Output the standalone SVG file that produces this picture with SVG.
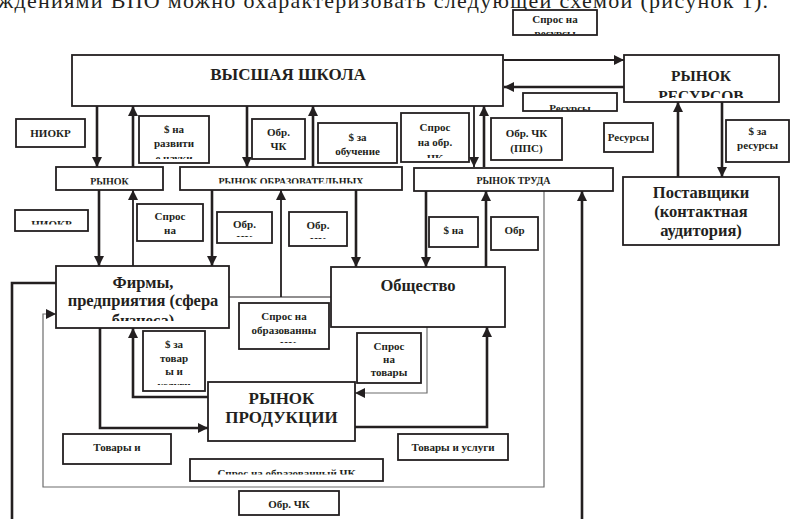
<svg xmlns="http://www.w3.org/2000/svg" width="795" height="519" viewBox="0 0 795 519">
<style>
.box{fill:#fff;stroke:#231f20;stroke-width:1.8}
.t{font-family:"Liberation Serif","Times New Roman",serif;font-weight:bold;fill:#231f20;text-anchor:middle}
.s{font-size:11px}
.m{font-size:10px}
.b{font-size:16.5px}
.a{fill:none;stroke:#231f20;stroke-width:2.6;marker-end:url(#ah)}
.n{fill:none;stroke:#231f20;stroke-width:2.6}
.a2{fill:none;stroke:#231f20;stroke-width:1.8;marker-end:url(#ah)}
.g{fill:none;stroke:#6d6d6d;stroke-width:1.2}
.ga{fill:none;stroke:#6d6d6d;stroke-width:1.2;marker-end:url(#ah)}
</style>
<defs>
<marker id="ah" viewBox="0 0 10 10" refX="10" refY="5" markerWidth="11" markerHeight="10" markerUnits="userSpaceOnUse" orient="auto">
<path d="M0,0 L10,5 L0,10 z" fill="#231f20"/>
</marker>
<clipPath id="c1"><rect x="513" y="10" width="84" height="24"/></clipPath>
<clipPath id="c2"><rect x="624" y="55" width="155" height="43"/></clipPath>
<clipPath id="c3"><rect x="523" y="93" width="94" height="17.5"/></clipPath>
<clipPath id="c4"><rect x="139" y="116" width="70" height="43"/></clipPath>
<clipPath id="c5"><rect x="401" y="113" width="68" height="45"/></clipPath>
<clipPath id="c6"><rect x="56" y="167" width="107" height="17.5"/></clipPath>
<clipPath id="c7"><rect x="180" y="167" width="222" height="16.5"/></clipPath>
<clipPath id="c8"><rect x="15" y="210" width="73" height="14.5"/></clipPath>
<clipPath id="c9"><rect x="217" y="212" width="55" height="25"/></clipPath>
<clipPath id="c10"><rect x="289" y="212" width="58" height="27"/></clipPath>
<clipPath id="c11"><rect x="56" y="266" width="173" height="55"/></clipPath>
<clipPath id="c12"><rect x="239" y="303" width="90" height="40"/></clipPath>
<clipPath id="c13"><rect x="143" y="331" width="62" height="54"/></clipPath>
<clipPath id="c14"><rect x="190" y="459" width="193" height="15.5"/></clipPath>
</defs>
<rect width="795" height="519" fill="#fff"/>
<text x="-2" y="8" textLength="770" lengthAdjust="spacing" style="font-family:'Liberation Serif','Times New Roman',serif;font-size:22px;fill:#231f20">ждениями ВПО можно охарактеризовать следующей схемой (рисунок 1).</text>

<g id="connectors">
<path class="a" d="M97,106 V167"/>
<path class="a" d="M133,167 V106"/>
<path class="a" d="M247,106 V167"/>
<path class="a" d="M313,167 V106"/>
<path class="a2" d="M474,106 V167"/>
<path class="a" d="M484,167 V106"/>
<path class="a2" d="M504,60 H624"/>
<path class="a" d="M624,87 H504"/>
<path class="a" d="M678,177 V102"/>
<path class="a" d="M722,102 V177"/>
<path class="a" d="M99,190 V266"/>
<path class="a2" d="M133,266 V190"/>
<path class="a" d="M212,190 V266"/>
<path d="M229,297 H331" fill="none" stroke="#231f20" stroke-width="1.2"/>
<path class="a2" d="M281,297 V190"/>
<path class="a" d="M356,190 V267"/>
<path class="a" d="M426,191 V267"/>
<path class="a" d="M486,267 V191"/>
<path class="ga" d="M544,191 V487 H43 V314 H56"/>
<path class="n" d="M56,283 H12 V519"/>
<path class="a" d="M582,519 V191"/>
<path class="a" d="M100,328 V428 H208"/>
<path class="a" d="M208,397 H133 V328"/>
<path class="ga" d="M427,327 V393 H355"/>
<path class="a" d="M355,427 H487 V327"/>
</g>

<g id="vysshaya-shkola"><rect class="box" x="72" y="55" width="431" height="51"/><text class="t" x="288" y="80" style="font-size:17px">ВЫСШАЯ ШКОЛА</text></g>
<g id="spros-resursy"><rect class="box" x="513" y="10" width="84" height="25"/><g clip-path="url(#c1)"><text class="t s" x="555" y="23">Спрос на</text><text class="t s" x="555" y="37">ресурсы</text></g></g>
<g id="rynok-resursov"><rect class="box" x="624" y="55" width="155" height="47"/><g clip-path="url(#c2)"><text class="t" x="701" y="81" style="font-size:15.5px">РЫНОК</text><text class="t" x="701" y="101" style="font-size:15.5px">РЕСУРСОВ</text></g></g>
<g id="resursy-1"><rect class="box" x="523" y="93" width="94" height="18"/><g clip-path="url(#c3)"><text class="t s" x="570" y="112">Ресурсы</text></g></g>
<g id="resursy-2"><rect class="box" x="604" y="123" width="49" height="29"/><text class="t s" x="628.5" y="141">Ресурсы</text></g>
<g id="za-resursy"><rect class="box" x="726" y="120" width="63" height="42"/><text class="t s" x="757.5" y="135">$ за</text><text class="t s" x="757.5" y="149">ресурсы</text></g>
<g id="postavshchiki"><rect class="box" x="623" y="177" width="156" height="68"/><text class="t b" x="701" y="198">Поставщики</text><text class="t b" x="701" y="217">(контактная</text><text class="t b" x="701" y="236">аудитория)</text></g>

<g id="niokr-1"><rect class="box" x="16" y="119" width="69" height="28"/><text class="t s" x="50.5" y="137">НИОКР</text></g>
<g id="na-razvitie"><rect class="box" x="139" y="116" width="70" height="47"/><g clip-path="url(#c4)"><text class="t s" x="174" y="133">$ на</text><text class="t s" x="174" y="147">развити</text><text class="t s" x="174" y="161.5">е науки</text></g></g>
<g id="obr-chk-1"><rect class="box" x="252" y="119" width="53" height="40"/><text class="t s" x="278.5" y="136">Обр.</text><text class="t s" x="278.5" y="150">ЧК</text></g>
<g id="za-obuchenie"><rect class="box" x="318" y="123" width="79" height="40"/><text class="t s" x="357.5" y="141">$ за</text><text class="t s" x="357.5" y="155">обучение</text></g>
<g id="spros-obr-chk"><rect class="box" x="401" y="113" width="68" height="49"/><g clip-path="url(#c5)"><text class="t s" x="435" y="131">Спрос</text><text class="t s" x="435" y="146">на обр.</text><text class="t s" x="435" y="162">ЧК</text></g></g>
<g id="obr-chk-pps"><rect class="box" x="491" y="118" width="71" height="42"/><text class="t s" x="526.5" y="137">Обр. ЧК</text><text class="t s" x="526.5" y="152">(ППС)</text></g>

<g id="rynok"><rect class="box" x="56" y="167" width="107" height="23"/><g clip-path="url(#c6)"><text class="t m" x="109.5" y="185">РЫНОК</text></g></g>
<g id="rynok-obraz"><rect class="box" x="180" y="167" width="222" height="23"/><g clip-path="url(#c7)"><text class="t m" x="291" y="185">РЫНОК ОБРАЗОВАТЕЛЬНЫХ</text></g></g>
<g id="rynok-truda"><rect class="box" x="414" y="168" width="199" height="23"/><text class="t m" x="513.5" y="184">РЫНОК ТРУДА</text></g>

<g id="niokr-2"><rect class="box" x="15" y="210" width="73" height="21"/><g clip-path="url(#c8)"><text class="t s" x="51.5" y="228">НИОКР</text></g></g>
<g id="spros-na"><rect class="box" x="137" y="204" width="66" height="37"/><text class="t s" x="170" y="220">Спрос</text><text class="t s" x="170" y="234">на</text></g>
<g id="obr-2"><rect class="box" x="217" y="212" width="55" height="31"/><g clip-path="url(#c9)"><text class="t s" x="244.5" y="228">Обр.</text><text class="t s" x="244.5" y="243">ЧК</text></g></g>
<g id="obr-3"><rect class="box" x="289" y="212" width="58" height="34"/><g clip-path="url(#c10)"><text class="t s" x="318" y="229">Обр.</text><text class="t s" x="318" y="245">ЧК</text></g></g>
<g id="na-2"><rect class="box" x="429" y="217" width="49" height="30"/><text class="t s" x="453.5" y="234">$ на</text></g>
<g id="obr-4"><rect class="box" x="491" y="217" width="47" height="33"/><text class="t s" x="514.5" y="234">Обр</text></g>

<g id="firmy"><rect class="box" x="56" y="266" width="173" height="62"/><g clip-path="url(#c11)"><text class="t b" x="143" y="288">Фирмы,</text><text class="t b" x="143" y="306">предприятия (сфера</text><text class="t b" x="143" y="326">бизнеса)</text></g></g>
<g id="obshchestvo"><rect class="box" x="331" y="267" width="174" height="60"/><text class="t b" x="418" y="291">Общество</text></g>

<g id="spros-obraz-chk"><rect class="box" x="239" y="303" width="90" height="46"/><g clip-path="url(#c12)"><text class="t s" x="284" y="320">Спрос на</text><text class="t s" x="284" y="334">образованны</text><text class="t s" x="284" y="349">х ЧК</text></g></g>
<g id="za-tovary"><rect class="box" x="143" y="331" width="62" height="60"/><g clip-path="url(#c13)"><text class="t s" x="174" y="348">$ за</text><text class="t s" x="174" y="361.5">товар</text><text class="t s" x="174" y="375">ы и</text><text class="t s" x="174" y="389">услуги</text></g></g>
<g id="spros-tovary"><rect class="box" x="357" y="333" width="64" height="50"/><text class="t s" x="389" y="350">Спрос</text><text class="t s" x="389" y="363">на</text><text class="t s" x="389" y="376">товары</text></g>

<g id="rynok-produkcii"><rect class="box" x="208" y="382" width="147" height="59"/><text class="t" x="281.5" y="404" style="font-size:17px">РЫНОК</text><text class="t" x="281.5" y="423" style="font-size:17px">ПРОДУКЦИИ</text></g>

<g id="tovary-i"><rect class="box" x="63" y="434" width="108" height="30"/><text class="t s" x="117" y="451">Товары и</text></g>
<g id="tovary-uslugi"><rect class="box" x="398" y="434" width="110" height="26"/><text class="t s" x="453" y="451">Товары и услуги</text></g>
<g id="spros-obraz-chk-2"><rect class="box" x="190" y="459" width="193" height="22"/><g clip-path="url(#c14)"><text class="t s" x="286.5" y="477">Спрос на образованный ЧК</text></g></g>
<g id="obr-chk-5"><rect class="box" x="239" y="491" width="100" height="24"/><text class="t s" x="289" y="508">Обр. ЧК</text></g>
</svg>
